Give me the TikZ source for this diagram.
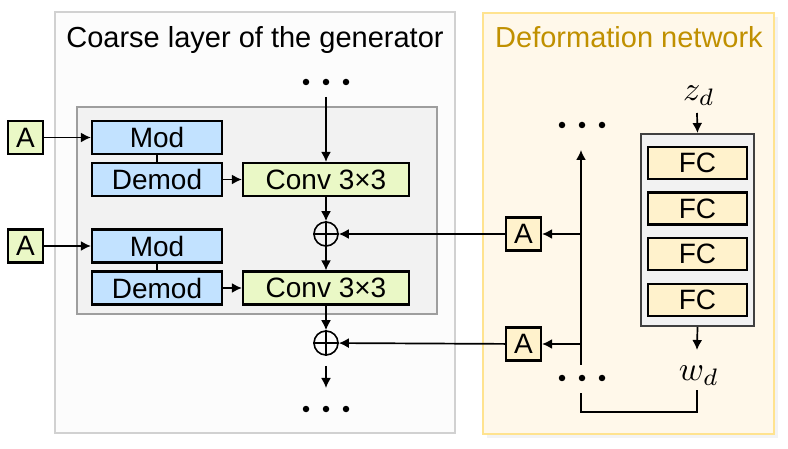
\documentclass[tikz,border=0pt]{standalone}
\usepackage{fontspec}
\setmainfont{Liberation Sans}
\usetikzlibrary{arrows.meta}
\definecolor{bluefill}{HTML}{C2E2FF}
\definecolor{greenfill}{HTML}{EAF8C6}
\definecolor{yelfill}{HTML}{FFF2CC}
\definecolor{panelfill}{HTML}{FFF8EA}
\definecolor{panelline}{HTML}{FFE38F}
\definecolor{goldtext}{HTML}{C09000}
\tikzset{
  blk/.style={draw=black, line width=2.2pt, inner sep=0pt, font=\fontsize{28}{30}\selectfont},
  modbox/.style={blk, fill=bluefill, minimum width=130pt, minimum height=33pt},
  convbox/.style={blk, fill=greenfill, minimum width=166pt, minimum height=33pt},
  abox/.style={blk, minimum width=35pt, minimum height=33pt},
  fcbox/.style={blk, fill=yelfill, minimum width=99pt, minimum height=32pt},
  plusnode/.style={draw=black, line width=1.6pt, circle, minimum size=24pt, inner sep=0pt},
  arr/.style={line width=1.7pt, -{Latex[length=10pt,width=10pt]}},
  ln/.style={line width=1.7pt},
  dot/.style={circle, fill=black, inner sep=0pt, minimum size=6.5pt},
  title/.style={font=\fontsize{29}{32}\selectfont, anchor=base},
  mathlbl/.style={font=\fontsize{10}{12}\selectfont, inner sep=0pt, scale=3.4, transform shape}
}
\begin{document}
\begin{tikzpicture}[x=1pt,y=-1pt]
\useasboundingbox (0,0) rectangle (788,449);
% left panel
\draw[draw=black!18, fill=black!1, line width=1.5pt] (55,12) rectangle (455,433);
\node[title] (t1) at (255,48) {Coarse layer of the generator};
\draw[draw=black!38, fill=black!5, line width=1.5pt] (77,107) rectangle (437,314);
% right panel
\fill[black!8, opacity=0.6] (487,17) rectangle (778,438);
\draw[draw=panelline, fill=panelfill, line width=1.5pt] (483,13) rectangle (774,434);
\node[title, text=goldtext] (t2) at (629,48) {Deformation network};

% left nodes
\node[abox, fill=greenfill] (A1) at (25.5,137.5) {A};
\node[abox, fill=greenfill] (A2) at (25.5,246) {A};
\node[modbox] (M1) at (157,137.5) {Mod};
\node[modbox] (D1) at (157,179.5) {Demod};
\node[modbox] (M2) at (157,246) {Mod};
\node[modbox] (D2) at (157,288) {Demod};
\node[convbox] (C1) at (326,179.5) {Conv 3×3};
\node[convbox] (C2) at (326,288) {Conv 3×3};
\node[plusnode] (P1) at (326,234) {};
\node[plusnode] (P2) at (326,343) {};
\draw[line width=1.6pt] (P1.north) -- (P1.south) (P1.west) -- (P1.east);
\draw[line width=1.6pt] (P2.north) -- (P2.south) (P2.west) -- (P2.east);

\node[dot] (dt1) at (306,82) {};
\node[dot] (dt2) at (326,82) {};
\node[dot] (dt3) at (346,82) {};
\node[dot] (db1) at (306,409) {};
\node[dot] (db2) at (326,409) {};
\node[dot] (db3) at (346,409) {};
\coordinate (inTop) at (326,97);
\coordinate (outA) at (326,366);
\coordinate (outB) at (326,388);

\draw[arr] (A1) -- (M1);
\draw[arr] (A2) -- (M2);
\draw[ln] (M1) -- (D1);
\draw[ln] (M2) -- (D2);
\draw[arr] (D1) -- (C1);
\draw[arr] (D2) -- (C2);
\draw[arr] (inTop) -- (C1);
\draw[arr] (C1) -- (P1);
\draw[arr] (P1) -- (C2);
\draw[arr] (C2) -- (P2);
\draw[arr] (outA) -- (outB);

% right nodes
\node[mathlbl] (zd) at (699,96) {$z_d$};
\node[draw=black!75, fill=black!5, line width=2pt, minimum width=113pt, minimum height=192pt, inner sep=0pt] (FCB) at (697.5,230) {};
\node[fcbox] (F1) at (697.5,163) {FC};
\node[fcbox] (F2) at (697.5,208.5) {FC};
\node[fcbox] (F3) at (697.5,254) {FC};
\node[fcbox] (F4) at (697.5,300) {FC};
\node[mathlbl] (wd) at (699,376) {$w_d$};
\coordinate (zdA) at (697,113);
\coordinate (wdA) at (697,350);
\draw[arr] (zdA) -- (FCB.north);
\draw[arr] (FCB.south) -- (wdA);

\node[abox, fill=yelfill] (A3) at (523.5,234) {A};
\node[abox, fill=yelfill] (A4) at (523.5,344) {A};
\node[dot] (rt1) at (562,125) {};
\node[dot] (rt2) at (582,125) {};
\node[dot] (rt3) at (602,125) {};
\node[dot] (rb1) at (562,378) {};
\node[dot] (rb2) at (582,378) {};
\node[dot] (rb3) at (602,378) {};

\coordinate (vBot) at (581,365);
\coordinate (vTop) at (581,150);
\coordinate (j3) at (581,234);
\coordinate (j4) at (581,344);
\coordinate (brA) at (697,390);
\coordinate (brB) at (581,393);
\draw[arr] (vBot) -- (vTop);
\draw[arr] (j3) -- (A3);
\draw[arr] (j4) -- (A4);
\draw[arr] (A3) -- (P1);
\draw[arr] (A4) -- (P2);
\draw[ln] (brA) -- (697,412) -| (brB);
\end{tikzpicture}
\end{document}
